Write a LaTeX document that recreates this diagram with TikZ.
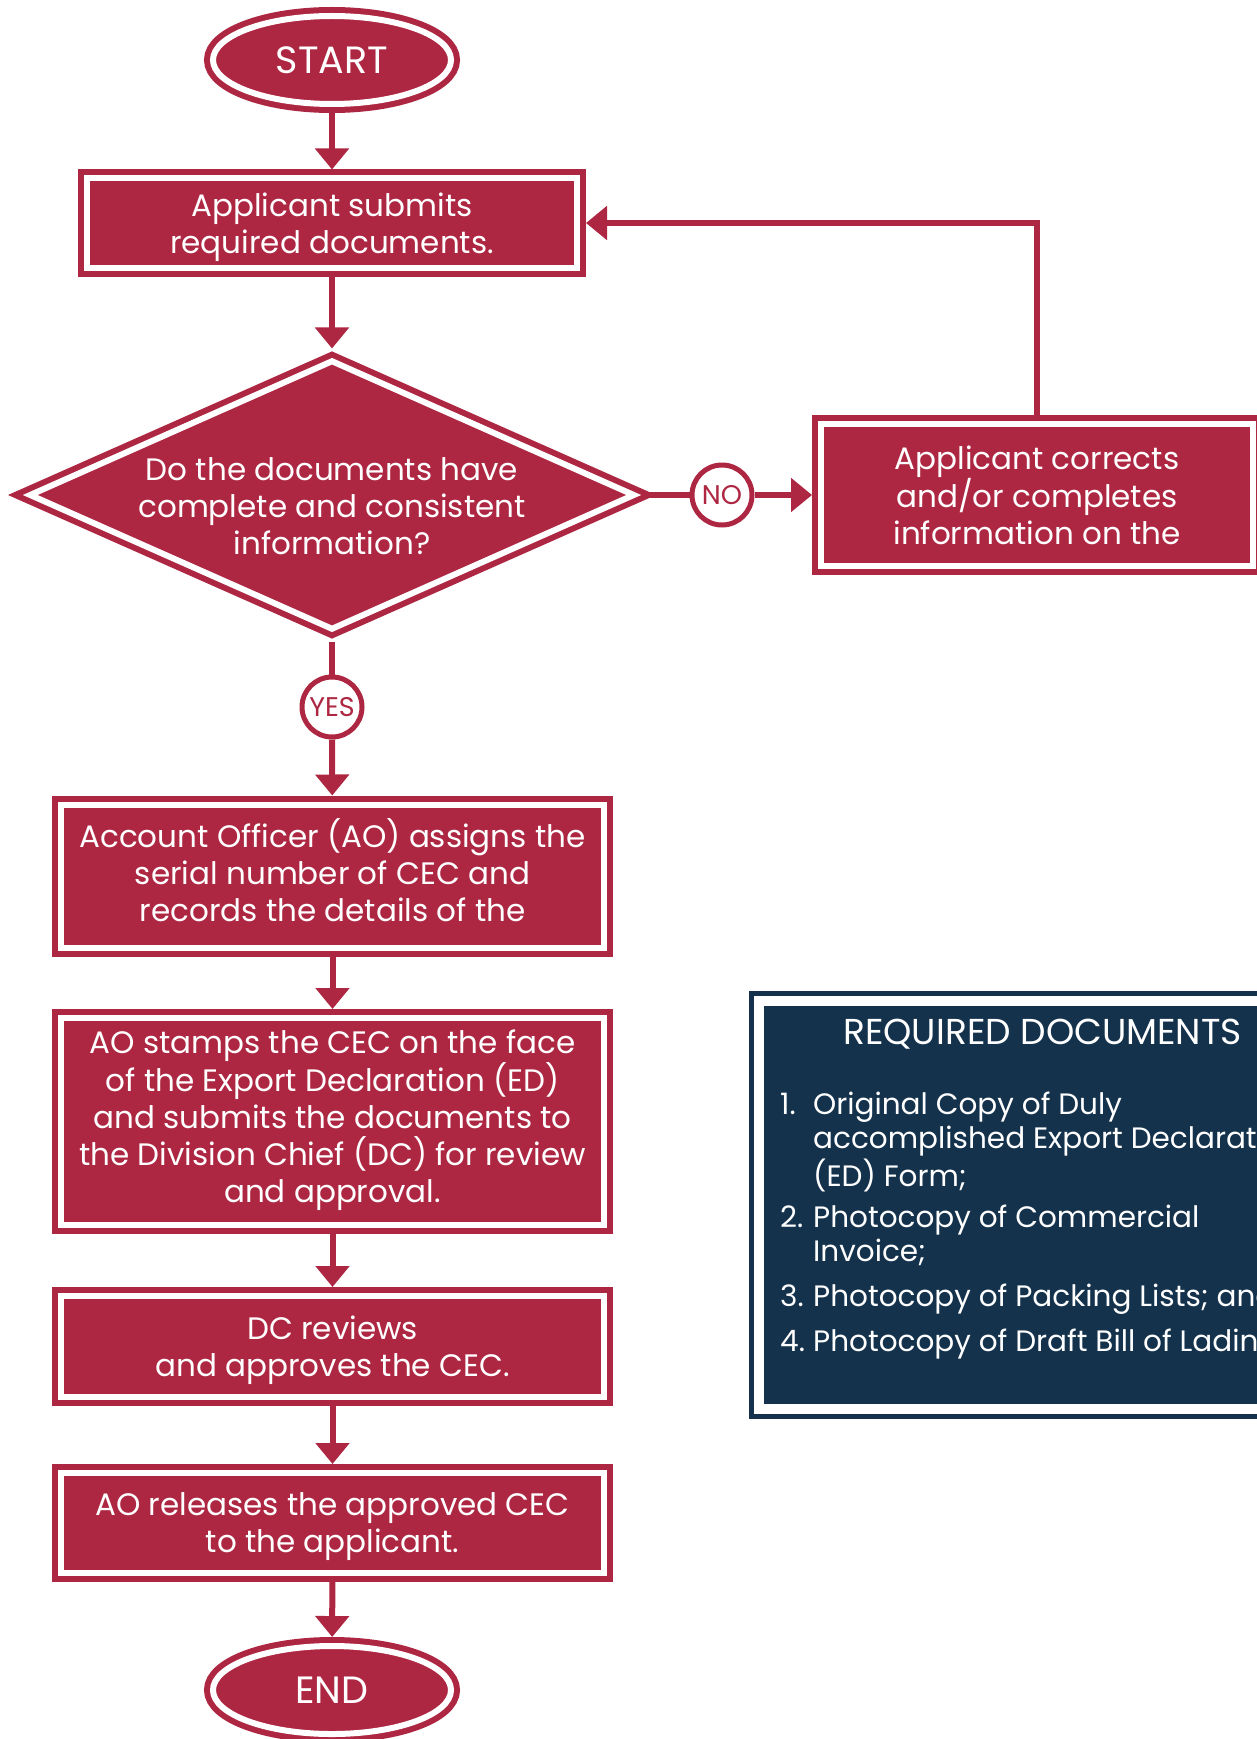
\documentclass[tikz,border=0pt]{standalone}
\usepackage{fontspec}
\setmainfont{Poppins}
\usetikzlibrary{shapes.geometric,arrows.meta}
\definecolor{crimson}{HTML}{AE2742}
\definecolor{navy}{HTML}{14324C}

\begin{document}
\begin{tikzpicture}[x=1pt, y=-1pt,
  box/.style={rectangle, fill=crimson, draw=crimson, double=white, double distance=6pt,
    line width=6pt, outer sep=9pt, inner sep=0pt, text=white, align=center,
    font=\fontsize{31}{37}\selectfont,
    execute at begin node=\strut, execute at end node=\strut},
  lowered/.style={text depth=0pt},
  terminal/.style={box, ellipse, minimum width=238pt, minimum height=88pt,
    font=\fontsize{38}{40}\selectfont, text height=27pt, text depth=0pt},
  decision/.style={box, diamond, minimum width=611pt, minimum height=275pt},
  answer/.style={circle, fill=white, draw=crimson, line width=5pt, minimum size=60pt,
    inner sep=0pt, text=crimson, font=\fontsize{27}{30}\selectfont},
  docs/.style={rectangle, fill=navy, draw=navy, double=white, double distance=10pt,
    line width=5pt, outer sep=10pt, minimum width=567pt, minimum height=408pt},
  doctext/.style={text=white, inner sep=0pt, font=\fontsize{29.5}{34.5}\selectfont},
  flow/.style={draw=crimson, line width=6pt, -{Triangle[width=33pt,length=21pt]}},
  link/.style={draw=crimson, line width=6pt}]
\useasboundingbox (0,0) rectangle (1257,1739);
\clip (0,0) rectangle (1257,1739);

\node[terminal] (start) at (332,60) {START};
\node[box, lowered, minimum width=490pt, minimum height=89pt] (submit) at (332,223)
  {Applicant submits\\required documents.};

\node[decision] (check) at (332,495) {};
\node[box, draw=none, fill=none] (checktext) at (332,511.5)
  {Do the documents have\\complete and consistent\\information?};
\node[answer] (no) at (722,495) {NO};
\node[answer] (yes) at (332,707) {YES};

\node[box, lowered, minimum width=432pt, minimum height=142pt] (correct) at (1037,495)
  {Applicant corrects\\and/or completes\\information on the};

\node[box, minimum width=543pt, minimum height=143pt] (assign) at (332.5,876)
  {Account Officer (AO) assigns the\\serial number of CEC and\\records the details of the};
\node[box, minimum width=543pt, minimum height=207pt] (stamp) at (332.5,1121.5)
  {AO stamps the CEC on the face\\of the Export Declaration (ED)\\and submits the documents to\\the Division Chief (DC) for review\\and approval.};
\node[box, lowered, minimum width=543pt, minimum height=101pt] (review) at (332.5,1346.5)
  {DC reviews\\and approves the CEC.};
\node[box, lowered, minimum width=543pt, minimum height=100pt] (release) at (332.5,1523)
  {AO releases the approved CEC\\to the applicant.};
\node[terminal] (end) at (332,1690) {END};

\node[docs] (required) at (1042.5,1205) {};
\node[doctext, font=\fontsize{36}{38}\selectfont] (doctitle) at (1042.5,1034) {REQUIRED DOCUMENTS};
\node[doctext, anchor=north west] (doclist) at (780,1090) {%
  \begin{tabular}{@{}p{33pt}@{}l@{}}
  1. & Original Copy of Duly\\
     & accomplished Export Declaration\\
     & (ED) Form;\\[6.2pt]
  2. & Photocopy of Commercial\\
     & Invoice;\\[9.7pt]
  3. & Photocopy of Packing Lists; and\\[10.5pt]
  4. & Photocopy of Draft Bill of Lading.
  \end{tabular}};

\draw[flow] (start) -- (submit);
\draw[flow] (submit) -- (check);
\draw[link] (check.east) -- (no);
\draw[flow] (no) -- (correct);
\draw[flow] (correct.north) |- (submit.east);
\draw[link] (check.south) -- (yes);
\draw[flow] (yes) -- (assign);
\draw[flow] (assign) -- (stamp);
\draw[flow] (stamp) -- (review);
\draw[flow] (review) -- (release);
\draw[flow] (release) -- (end);
\end{tikzpicture}
\end{document}
